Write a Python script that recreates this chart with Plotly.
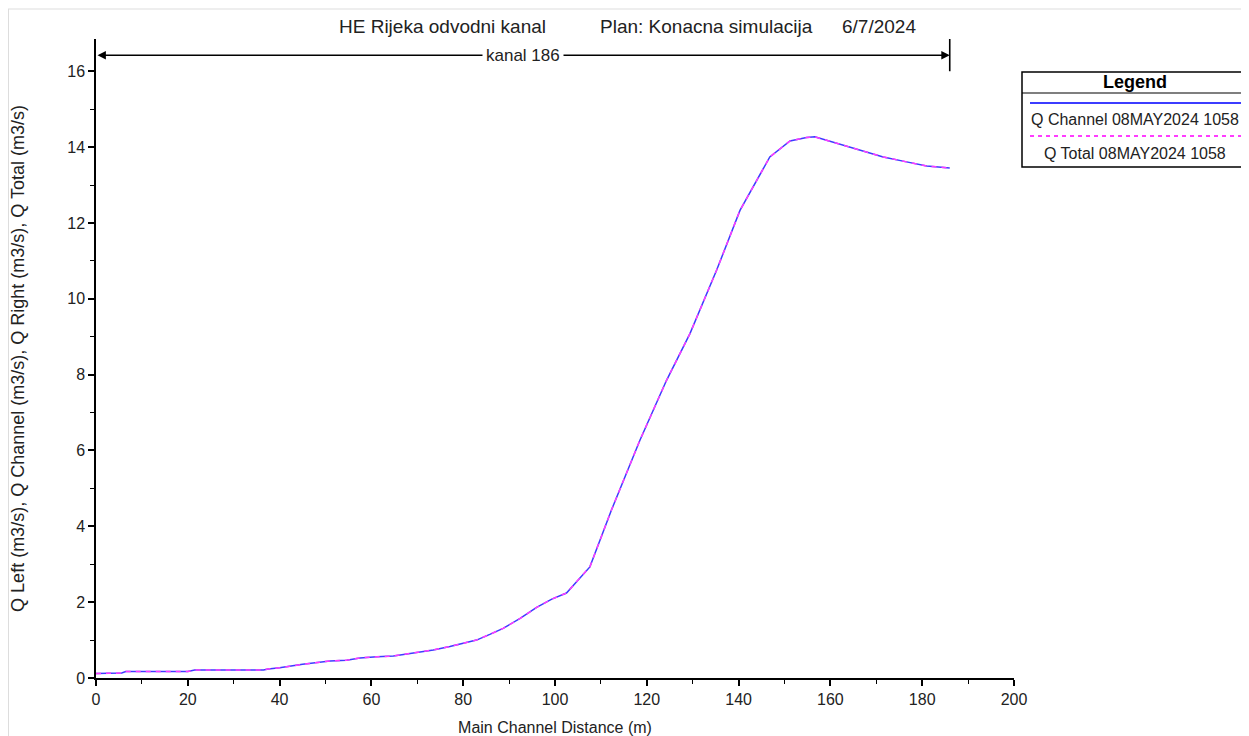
import plotly.graph_objects as go

# ---- data ----
distance = [0, 5.6, 6.5, 20, 21.5, 36.5, 37.5, 40, 45, 51, 54.6, 57.5, 61.2, 64.8, 67, 69.9,
            73.5, 77.1, 80, 82.9, 85.8, 88.7, 92.4, 96, 99.3, 102.5, 107.6, 112.3, 118.5,
            124.3, 129.4, 135.2, 140.3, 142.5, 146.8, 151.2, 154.8, 156.6, 159.2, 165.7,
            171.5, 176.6, 181, 186]
q_channel = [0.12, 0.13, 0.17, 0.17, 0.21, 0.21, 0.24, 0.27, 0.36, 0.45, 0.47, 0.53, 0.56,
             0.58, 0.62, 0.67, 0.74, 0.83, 0.91, 1.0, 1.15, 1.31, 1.57, 1.86, 2.08, 2.24,
             2.93, 4.43, 6.27, 7.85, 9.08, 10.75, 12.33, 12.82, 13.74, 14.16, 14.25, 14.27,
             14.18, 13.96, 13.74, 13.61, 13.5, 13.45]
q_total = list(q_channel)

reach_name = "kanal 186"
reach_start = 0
reach_end = 186
x_ticks = [0, 20, 40, 60, 80, 100, 120, 140, 160, 180, 200]
y_ticks = [0, 2, 4, 6, 8, 10, 12, 14, 16]
series_names = ["Q Channel 08MAY2024 1058", "Q Total 08MAY2024 1058"]
title_parts = ["HE Rijeka odvodni kanal", "Plan: Konacna simulacija", "6/7/2024"]

# ---- layout geometry (screen pixels; page body adds an 8px offset) ----
OFF = 8
W, H = 1249, 736
L, R, T, B = 96 - OFF, 1014 - OFF, 39 - OFF, 678 - OFF
Y_MAX = 16.85
FONT = "Liberation Sans, Arial, sans-serif"
TXT = "#222222"


def px(x):
    return (x - OFF - L) / (R - L)


def py(y):
    return (B - (y - OFF)) / (B - T)


fig = go.Figure()
fig.add_trace(go.Scatter(x=distance, y=q_channel, mode="lines", name=series_names[0],
                         line=dict(color="#3c3cff", width=1.5), showlegend=False))
fig.add_trace(go.Scatter(x=distance, y=q_total, mode="lines", name=series_names[1],
                         line=dict(color="#ff3cff", width=1.5, dash="5px,5px"), showlegend=False))

shapes = []
annotations = []

# outer light frame (top and left edges)
shapes.append(dict(type="line", xref="paper", yref="paper", x0=px(8), x1=px(1260), y0=py(9), y1=py(9),
                   line=dict(color="#dddddd", width=1), layer="below"))
shapes.append(dict(type="line", xref="paper", yref="paper", x0=px(8.5), x1=px(8.5), y0=py(9), y1=py(760),
                   line=dict(color="#dddddd", width=1), layer="below"))

# reach arrow
arrow_y = 16.42
annotations.append(dict(x=reach_end, y=arrow_y, ax=reach_start, ay=arrow_y, xref="x", yref="y",
                        axref="x", ayref="y", text="", showarrow=True, arrowhead=2, arrowsize=1.2,
                        arrowwidth=1.4, arrowside="end+start", arrowcolor="#000000", standoff=0,
                        startstandoff=0))
shapes.append(dict(type="line", xref="x", yref="y", x0=reach_end, x1=reach_end, y0=16.0, y1=Y_MAX,
                   line=dict(color="#000000", width=1.6)))
annotations.append(dict(x=(reach_start + reach_end) / 2, y=arrow_y, xref="x", yref="y", text=reach_name,
                        showarrow=False, bgcolor="white", font=dict(family=FONT, size=17, color=TXT),
                        borderpad=3))

# title
for cx, t in zip([442.5, 706, 879], title_parts):
    annotations.append(dict(x=px(cx), y=py(27), xref="paper", yref="paper", text=t, showarrow=False,
                            font=dict(family=FONT, size=19, color=TXT), xanchor="center", yanchor="middle"))

# legend box
shapes.append(dict(type="rect", xref="paper", yref="paper", x0=px(1022), x1=px(1247), y0=py(72), y1=py(167),
                   line=dict(color="#000000", width=1.5), fillcolor="white"))
shapes.append(dict(type="line", xref="paper", yref="paper", x0=px(1022), x1=px(1247), y0=py(93), y1=py(93),
                   line=dict(color="#000000", width=1.2)))
annotations.append(dict(x=px(1135), y=py(82), xref="paper", yref="paper", text="<b>Legend</b>", showarrow=False,
                        font=dict(family=FONT, size=18, color="#000000"), xanchor="center", yanchor="middle"))
shapes.append(dict(type="line", xref="paper", yref="paper", x0=px(1030), x1=px(1241), y0=py(103), y1=py(103),
                   line=dict(color="#3c3cff", width=2)))
annotations.append(dict(x=px(1135), y=py(119), xref="paper", yref="paper", text=series_names[0], showarrow=False,
                        font=dict(family=FONT, size=16, color=TXT), xanchor="center", yanchor="middle"))
shapes.append(dict(type="line", xref="paper", yref="paper", x0=px(1030), x1=px(1241), y0=py(136), y1=py(136),
                   line=dict(color="#ff3cff", width=2, dash="4px,4px")))
annotations.append(dict(x=px(1135), y=py(153), xref="paper", yref="paper", text=series_names[1], showarrow=False,
                        font=dict(family=FONT, size=16, color=TXT), xanchor="center", yanchor="middle"))

fig.update_layout(
    width=W, height=H,
    margin=dict(l=L, r=W - R, t=T, b=H - B, autoexpand=False),
    paper_bgcolor="white", plot_bgcolor="white",
    font=dict(family=FONT, size=16, color=TXT),
    shapes=shapes, annotations=annotations,
    showlegend=False,
)
fig.update_xaxes(range=[0, 200], tickvals=x_ticks, ticks="outside", ticklen=6, tickwidth=1.5,
                 tickcolor="#000000", showline=True, linecolor="#000000", linewidth=1.5,
                 showgrid=False, zeroline=False, tickfont=dict(family=FONT, size=16, color=TXT),
                 minor=dict(dtick=10, ticks="outside", ticklen=4, tickwidth=1.2, tickcolor="#000000"),
                 title=dict(text="Main Channel Distance (m)", font=dict(family=FONT, size=16, color=TXT),
                            standoff=15))
fig.update_yaxes(range=[0, Y_MAX], tickvals=y_ticks, ticks="outside", ticklen=6, tickwidth=1.5,
                 tickcolor="#000000", showline=True, linecolor="#000000", linewidth=1.5,
                 showgrid=False, zeroline=False, tickfont=dict(family=FONT, size=16, color=TXT),
                 minor=dict(dtick=1, ticks="outside", ticklen=4, tickwidth=1.2, tickcolor="#000000"),
                 title=dict(text="Q Left (m3/s), Q Channel (m3/s), Q Right (m3/s), Q Total (m3/s)",
                            font=dict(family=FONT, size=18, color=TXT), standoff=40))

fig.write_html("out.html")
